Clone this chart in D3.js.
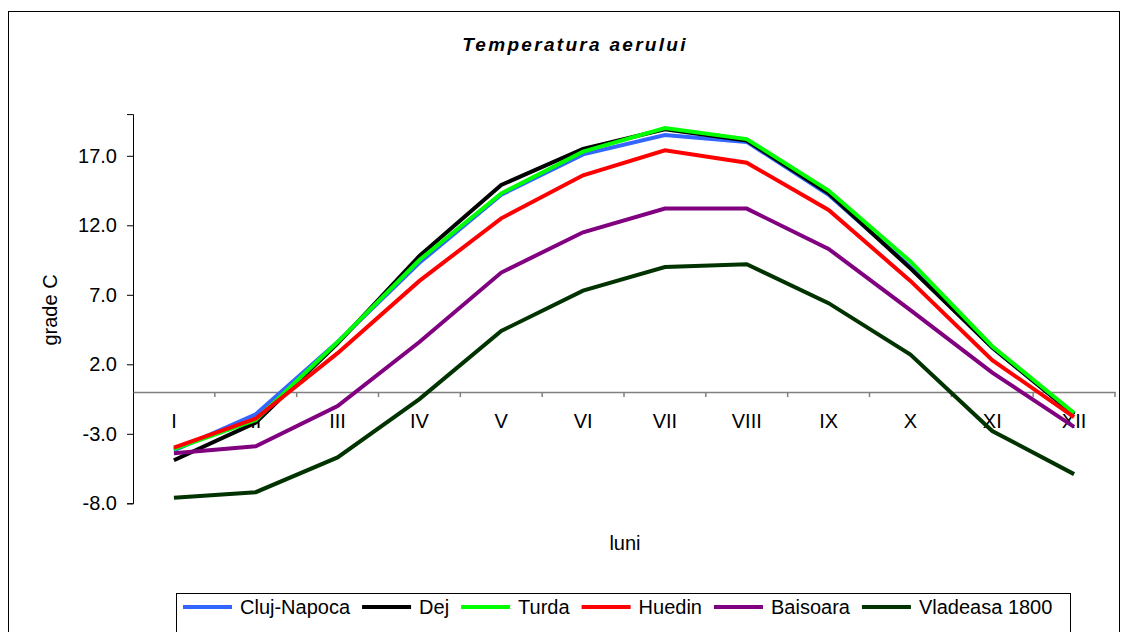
<!DOCTYPE html>
<html><head><meta charset="utf-8">
<script src="https://cdn.jsdelivr.net/npm/d3@7"></script>
<style>body{margin:0;background:#fff;} text{font-family:Arial,"Liberation Sans",sans-serif;}</style>
</head><body>
<svg id="c" width="1123" height="632"></svg>
<script>
const months = ["I","II","III","IV","V","VI","VII","VIII","IX","X","XI","XII"];
const seriesNames = ["Cluj-Napoca","Dej","Turda","Huedin","Baisoara","Vladeasa 1800"];
const seriesColors = ["#3366FF","#000000","#00FF00","#FF0000","#800080","#003300"];
const clujNapoca = [-4.2,-1.6,3.6,9.3,14.2,17.1,18.5,18.0,14.2,9.0,3.2,-1.6];
const dej        = [-4.9,-2.2,3.5,9.8,14.9,17.5,18.9,18.1,14.3,8.9,3.2,-1.6];
const turda      = [-4.1,-2.0,3.6,9.5,14.3,17.3,19.0,18.2,14.5,9.4,3.3,-1.5];
const huedin     = [-4.0,-1.9,2.8,8.0,12.5,15.6,17.4,16.5,13.1,8.0,2.3,-1.8];
const baisoara   = [-4.4,-3.9,-1.0,3.6,8.6,11.5,13.2,13.2,10.3,5.9,1.4,-2.5];
const vladeasa   = [-7.6,-7.2,-4.7,-0.5,4.4,7.3,9.0,9.2,6.4,2.7,-2.8,-5.9];
const yTicks = [-8,-3,2,7,12,17];
const seriesValues = [clujNapoca,dej,turda,huedin,baisoara,vladeasa];

const svg = d3.select("#c");
const L = 133, R = 1115, T = 114.1, B = 503.3;

// outer border
svg.append("rect").attr("x",8.5).attr("y",11.5).attr("width",1111).attr("height",640)
  .attr("fill","none").attr("stroke","#000").attr("stroke-width",1);

const x = d3.scaleBand().domain(months).range([L,R]).paddingInner(0).paddingOuter(0);
const y = d3.scaleLinear().domain([-8,20]).range([B,T]);

// y axis
const yAxis = d3.axisLeft(y).tickValues(yTicks).tickFormat(d=>d.toFixed(1)).tickSize(6).tickPadding(10);
const gy = svg.append("g").attr("transform",`translate(${L},0)`).call(yAxis);
gy.select(".domain").attr("stroke","#000");
gy.selectAll(".tick line").attr("stroke","#000");
gy.selectAll("text").attr("font-size",20).attr("fill","#000").attr("font-family","Arial, 'Liberation Sans', sans-serif");

// x axis at zero
const xAxis = d3.axisBottom(x).tickSize(0).tickPadding(22);
const gx = svg.append("g").attr("transform",`translate(0,${y(0)})`).call(xAxis);
gx.select(".domain").attr("stroke","#808080").attr("stroke-width",1.5);
gx.selectAll("text").attr("font-size",20).attr("fill","#000").attr("font-family","Arial, 'Liberation Sans', sans-serif");
// tick marks at band boundaries
const bounds = months.map(m=>x(m)).concat([R]);
svg.append("g").selectAll("line").data(bounds.slice(1)).join("line")
  .attr("x1",d=>d).attr("x2",d=>d).attr("y1",y(0)).attr("y2",y(0)+5)
  .attr("stroke","#808080").attr("stroke-width",1.5);

// lines
const line = d3.line().x((d,i)=>x(months[i])+x.bandwidth()/2).y(d=>y(d));
seriesValues.forEach((vals,k)=>{
  svg.append("path").datum(vals).attr("d",line).attr("fill","none")
    .attr("stroke",seriesColors[k]).attr("stroke-width",4).attr("stroke-linejoin","miter");
});

// title
svg.append("text").attr("x",575).attr("y",51).attr("text-anchor","middle")
  .attr("font-size",19).attr("font-weight","bold").attr("font-style","italic")
  .attr("letter-spacing",2.3).text("Temperatura aerului");

// axis titles
svg.append("text").attr("transform","translate(57,310) rotate(-90)").attr("text-anchor","middle")
  .attr("font-size",20).text("grade C");
svg.append("text").attr("x",625).attr("y",550).attr("text-anchor","middle")
  .attr("font-size",20).text("luni");

// legend
const lg = svg.append("g");
lg.append("rect").attr("x",176.5).attr("y",593.5).attr("width",894).attr("height",60)
  .attr("fill","#fff").attr("stroke","#000").attr("stroke-width",1);
let cx = 183;
seriesNames.forEach((n,k)=>{
  lg.append("line").attr("x1",cx).attr("x2",cx+49).attr("y1",607).attr("y2",607)
    .attr("stroke",seriesColors[k]).attr("stroke-width",4);
  const t = lg.append("text").attr("x",cx+57).attr("y",614).attr("font-size",20).text(n);
  const w = t.node().getComputedTextLength();
  cx = cx + 57 + w + 12;
});
</script>
</body></html>
